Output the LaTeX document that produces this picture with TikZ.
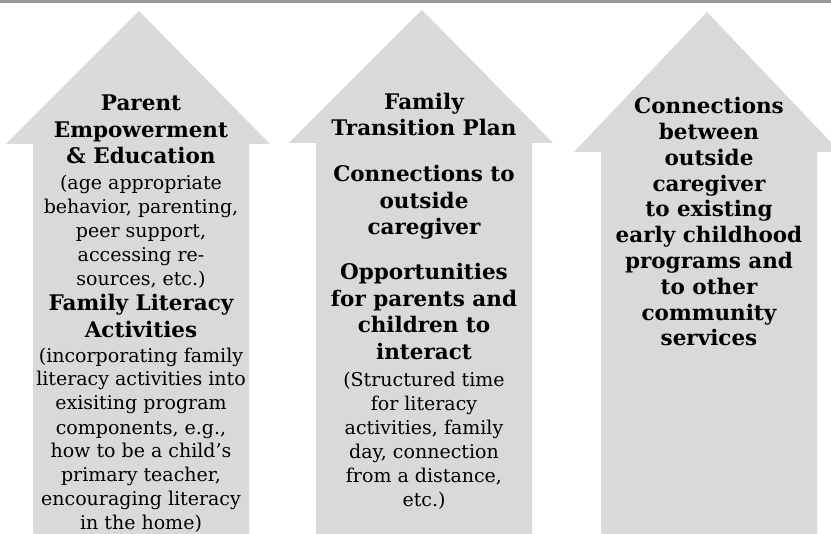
\documentclass[tikz,border=0pt]{standalone}
\usepackage{fontspec}
\setmainfont{DejaVu Serif}
\begin{document}
\begin{tikzpicture}[x=1pt,y=-1pt,
  arrowfill/.style={fill=arrowgray,draw=none},
  boldtxt/.style={font=\fontsize{21.5}{26.5}\selectfont\bfseries,align=center,anchor=base,inner sep=0pt},
  boldtxtc/.style={font=\fontsize{21.5}{25.8}\selectfont\bfseries,align=center,anchor=base,inner sep=0pt},
  regtxt/.style={font=\fontsize{19}{24}\selectfont,align=center,anchor=base,inner sep=0pt}]
\definecolor{arrowgray}{HTML}{D9D9D9}
\definecolor{linegray}{HTML}{999999}
\useasboundingbox (0,0) rectangle (831,534);
\fill[linegray] (0,0) rectangle (831,3);
% arrows
\path[arrowfill] (33,534) -- (33,144) -- (6,144) -- (139,11) -- (270,144) -- (249,144) -- (249,534) -- cycle;
\path[arrowfill] (316,534) -- (316,143) -- (289,143) -- (422,10) -- (553,143) -- (532,143) -- (532,534) -- cycle;
\path[arrowfill] (601,534) -- (601,152) -- (574,152) -- (707,12) -- (831,142.5) -- (831,152) -- (817,152) -- (817,534) -- cycle;
% arrow 1 texts (base anchor = baseline of last line)
\node[boldtxt] (a1) at (141,164) {Parent\\Empowerment\\\& Education};
\node[regtxt] (a2) at (141,285.5) {(age appropriate\\behavior, parenting,\\peer support,\\accessing re-\\sources, etc.)};
\node[boldtxt] (a3) at (141,337.5) {Family Literacy\\Activities};
\node[regtxt] (a4) at (141,530) {(incorporating family\\literacy activities into\\exisiting program\\components, e.g.,\\how to be a child’s\\primary teacher,\\encouraging literacy\\in the home)};
% arrow 2 texts
\node[boldtxt] (b1) at (424,136) {Family\\Transition Plan};
\node[boldtxt] (b2) at (424,235) {Connections to\\outside\\caregiver};
\node[boldtxt] (b3) at (424,359.5) {Opportunities\\for parents and\\children to\\interact};
\node[regtxt] (b4) at (424,507) {(Structured time\\for literacy\\activities, family\\day, connection\\from a distance,\\etc.)};
% arrow 3 texts
\node[boldtxtc] (c1) at (709,346) {Connections\\between\\outside\\caregiver\\to existing\\early childhood\\programs and\\to other\\community\\services};
\end{tikzpicture}
\end{document}
